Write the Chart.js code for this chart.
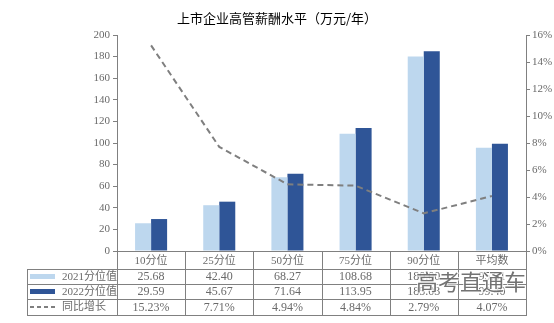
<!DOCTYPE html>
<html><head><meta charset="utf-8">
<script src="https://cdn.jsdelivr.net/npm/chart.js@4"></script>
<style>html,body{margin:0;padding:0;background:#fff}</style>
</head><body>
<canvas id="c" width="554" height="323" style="display:block;width:554px;height:323px"></canvas>
<script>
const categories = ['10分位','25分位','50分位','75分位','90分位','平均数'];
const values2021 = [25.68, 42.40, 68.27, 108.68, 180.00, 95.51];
const values2022 = [29.59, 45.67, 71.64, 113.95, 185.03, 99.40];
const growth = [15.23, 7.71, 4.94, 4.84, 2.79, 4.07];
const seriesNames = ['2021分位值', '2022分位值', '同比增长'];
const leftTicks = {min: 0, max: 200, step: 20};
const rightTicks = {min: 0, max: 16, step: 2};
const titleText = '上市企业高管薪酬水平（万元/年）';
const watermarkText = '高考直通车';

const C_LIGHT = '#bdd7ee', C_DARK = '#2f5597', C_LINE = '#7f7f7f', C_AXIS = '#808080', C_TEXT = '#6a6a6a';
const FONT_NUM = '"Liberation Serif", "Noto Sans CJK SC", serif';

const tablePlugin = {
  id: 'dataTable',
  afterDraw(chart) {
    const ctx = chart.ctx, xs = chart.scales.x, area = chart.chartArea;
    const n = categories.length;
    const cw = (xs.right - xs.left) / n;
    const top = Math.round(area.bottom);
    const rows = [top + 18, top + 33, top + 48, top + 64];
    const leftX = 27;
    ctx.save();
    ctx.strokeStyle = C_AXIS; ctx.lineWidth = 1;
    ctx.beginPath();
    for (let i = 0; i <= n; i++) {
      const x = Math.round(xs.left + i * cw) + 0.5;
      ctx.moveTo(x, top); ctx.lineTo(x, rows[3]);
    }
    ctx.moveTo(leftX + 0.5, rows[0]); ctx.lineTo(leftX + 0.5, rows[3]);
    rows.forEach(y => { ctx.moveTo(leftX, y + 0.5); ctx.lineTo(Math.round(xs.right) + 1, y + 0.5); });
    ctx.stroke();

    // legend keys
    ctx.fillStyle = C_LIGHT; ctx.fillRect(30, rows[0] + 5, 25, 5);
    ctx.fillStyle = C_DARK; ctx.fillRect(30, rows[1] + 5, 25, 5);
    ctx.strokeStyle = C_LINE; ctx.lineWidth = 2; ctx.setLineDash([4, 3]);
    ctx.beginPath(); ctx.moveTo(30, rows[2] + 8); ctx.lineTo(56, rows[2] + 8); ctx.stroke();
    ctx.setLineDash([]);

    ctx.fillStyle = C_TEXT; ctx.textBaseline = 'middle';
    ctx.font = '11px ' + FONT_NUM; ctx.textAlign = 'left';
    seriesNames.forEach((s, r) => ctx.fillText(s, 62, (rows[r] + rows[r + 1]) / 2 + 0.5));

    ctx.textAlign = 'center'; ctx.font = '12px ' + FONT_NUM;
    const rowsData = [values2021.map(v => v.toFixed(2)), values2022.map(v => v.toFixed(2)), growth.map(v => v.toFixed(2) + '%')];
    rowsData.forEach((arr, r) => {
      arr.forEach((t, i) => ctx.fillText(t, xs.getPixelForValue(i), (rows[r] + rows[r + 1]) / 2 + 0.5));
    });

    // watermark
    ctx.font = '22px "Noto Sans CJK SC", sans-serif';
    ctx.textAlign = 'center';
    ctx.lineWidth = 2; ctx.strokeStyle = 'rgba(255,255,255,0.8)';
    ctx.strokeText(watermarkText, 471, 282);
    ctx.fillStyle = 'rgba(90,90,90,0.85)';
    ctx.fillText(watermarkText, 471, 282);
    ctx.restore();
  }
};

new Chart(document.getElementById('c'), {
  data: {
    labels: categories,
    datasets: [
      {type: 'line', label: seriesNames[2], data: growth, yAxisID: 'y1', borderColor: C_LINE, borderWidth: 2,
       borderDash: [6, 4], pointRadius: 0, fill: false, tension: 0, order: 0},
      {type: 'bar', label: seriesNames[0], data: values2021, yAxisID: 'y', backgroundColor: C_LIGHT,
       barPercentage: 1, categoryPercentage: 0.47, order: 1},
      {type: 'bar', label: seriesNames[1], data: values2022, yAxisID: 'y', backgroundColor: C_DARK,
       barPercentage: 1, categoryPercentage: 0.47, order: 1}
    ]
  },
  options: {
    responsive: false, animation: false, devicePixelRatio: 1,
    layout: {padding: 0},
    plugins: {
      legend: {display: false}, tooltip: {enabled: false},
      title: {display: true, text: titleText, color: '#000',
              font: {family: '"Noto Sans CJK SC", sans-serif', size: 13, weight: 'normal', lineHeight: 1.2},
              padding: {top: 10, bottom: 9.4}}
    },
    scales: {
      x: {
        offset: true,
        grid: {display: false, drawTicks: false},
        border: {display: true, color: C_AXIS, width: 1},
        ticks: {color: C_TEXT, padding: 4, font: {family: FONT_NUM, size: 11}, maxRotation: 0},
        afterFit: s => { s.height = 72; }
      },
      y: {
        position: 'left', min: leftTicks.min, max: leftTicks.max,
        grid: {drawOnChartArea: false, drawTicks: true, tickLength: 4, color: C_AXIS},
        border: {display: true, color: C_AXIS, width: 1},
        ticks: {stepSize: leftTicks.step, color: C_TEXT, padding: 3, font: {family: FONT_NUM, size: 11}},
        afterFit: s => { s.width = 117; }
      },
      y1: {
        position: 'right', min: rightTicks.min, max: rightTicks.max,
        grid: {drawOnChartArea: false, drawTicks: true, tickLength: 4, color: C_AXIS},
        border: {display: true, color: C_AXIS, width: 1},
        ticks: {stepSize: rightTicks.step, color: C_TEXT, padding: 2, font: {family: FONT_NUM, size: 11},
                callback: v => v + '%'},
        afterFit: s => { s.width = 28; }
      }
    }
  },
  plugins: [tablePlugin]
});
</script>
</body></html>
